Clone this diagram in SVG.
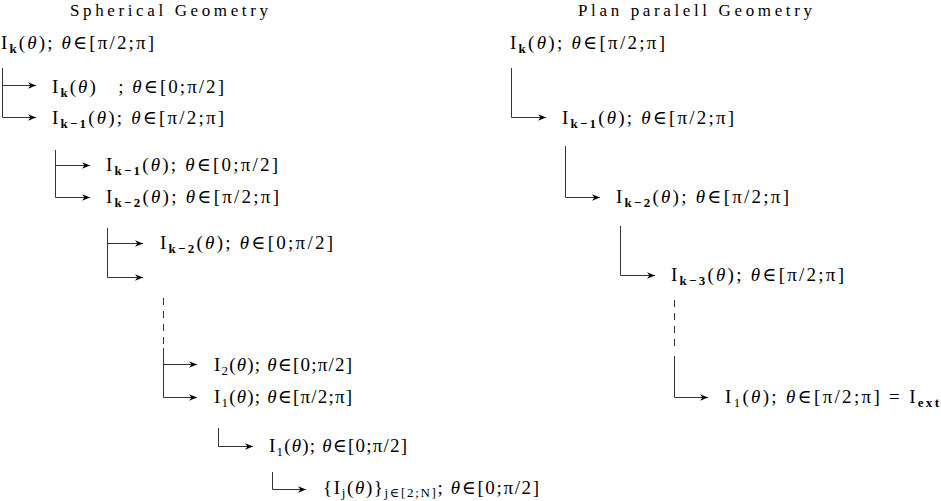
<svg xmlns="http://www.w3.org/2000/svg" width="941" height="501" viewBox="0 0 941 501">
<style>
text{font-family:"Liberation Serif","DejaVu Serif",serif;font-size:19px;fill:#000}
.ttl{font-size:17px}
.sb{font-size:13px;font-weight:bold}
.sn{font-size:13px}
.it{font-style:italic}
.c line,.c path{stroke:#333;stroke-width:1;fill:none}
.c .d{stroke-dasharray:7,6}
</style>
<defs>
<marker id="ah" viewBox="0 0 10 10" refX="10" refY="5" markerWidth="8" markerHeight="8" markerUnits="userSpaceOnUse" orient="auto">
<path d="M0,1 L10,5 L0,9 L3,5 Z" fill="#000" stroke="none"/>
</marker>
</defs>
<rect width="941" height="501" fill="#fff"/>
<g id="titles">
<text class="ttl" x="70" y="16" textLength="198" lengthAdjust="spacing">Spherical Geometry</text>
<text class="ttl" x="578" y="16" textLength="234" lengthAdjust="spacing">Plan paralell Geometry</text>
</g>
<g class="c" id="connectors">
<path d="M2.5,68 V117.5 H36" marker-end="url(#ah)"/>
<line x1="2.5" y1="85.5" x2="36" y2="85.5" marker-end="url(#ah)"/>
<path d="M55.5,150 V197.5 H90" marker-end="url(#ah)"/>
<line x1="55.5" y1="165.5" x2="90" y2="165.5" marker-end="url(#ah)"/>
<path d="M107.5,228 V277.5 H143" marker-end="url(#ah)"/>
<line x1="107.5" y1="243.5" x2="143" y2="243.5" marker-end="url(#ah)"/>
<line class="d" x1="163.5" y1="298" x2="163.5" y2="344"/>
<path d="M163.5,348 V397.5 H197" marker-end="url(#ah)"/>
<line x1="163.5" y1="364.5" x2="197" y2="364.5" marker-end="url(#ah)"/>
<path d="M218.5,428 V446.5 H253" marker-end="url(#ah)"/>
<path d="M272.5,472 V489.5 H306" marker-end="url(#ah)"/>
<path d="M511.5,68 V117.5 H546" marker-end="url(#ah)"/>
<path d="M565.5,146 V197.5 H600" marker-end="url(#ah)"/>
<path d="M620.5,226 V275.5 H655" marker-end="url(#ah)"/>
<line class="d" x1="674.5" y1="300" x2="674.5" y2="352"/>
<path d="M674.5,356 V397.5 H708" marker-end="url(#ah)"/>
</g>
<g id="sph1"><text x="1" y="49" textLength="153" lengthAdjust="spacing" xml:space="preserve">I<tspan class="sb" dy="4">k</tspan><tspan dy="-4">(</tspan><tspan class="it">θ</tspan>); <tspan class="it">θ</tspan>∈[π/2;π]</text></g>
<g id="sph2"><text x="52" y="93" textLength="172" lengthAdjust="spacing" xml:space="preserve">I<tspan class="sb" dy="4">k</tspan><tspan dy="-4">(</tspan><tspan class="it">θ</tspan>)   ; <tspan class="it">θ</tspan>∈[0;π/2]</text></g>
<g id="sph3"><text x="52" y="124" textLength="172" lengthAdjust="spacing" xml:space="preserve">I<tspan class="sb" dy="4">k−1</tspan><tspan dy="-4">(</tspan><tspan class="it">θ</tspan>); <tspan class="it">θ</tspan>∈[π/2;π]</text></g>
<g id="sph4"><text x="106" y="171" textLength="172" lengthAdjust="spacing" xml:space="preserve">I<tspan class="sb" dy="4">k−1</tspan><tspan dy="-4">(</tspan><tspan class="it">θ</tspan>); <tspan class="it">θ</tspan>∈[0;π/2]</text></g>
<g id="sph5"><text x="106" y="203" textLength="173" lengthAdjust="spacing" xml:space="preserve">I<tspan class="sb" dy="4">k−2</tspan><tspan dy="-4">(</tspan><tspan class="it">θ</tspan>); <tspan class="it">θ</tspan>∈[π/2;π]</text></g>
<g id="sph6"><text x="160" y="249" textLength="173" lengthAdjust="spacing" xml:space="preserve">I<tspan class="sb" dy="4">k−2</tspan><tspan dy="-4">(</tspan><tspan class="it">θ</tspan>); <tspan class="it">θ</tspan>∈[0;π/2]</text></g>
<g id="sph7"><text x="214" y="371" textLength="138" lengthAdjust="spacing" xml:space="preserve">I<tspan class="sn" dy="4">2</tspan><tspan dy="-4">(</tspan><tspan class="it">θ</tspan>); <tspan class="it">θ</tspan>∈[0;π/2]</text></g>
<g id="sph8"><text x="214" y="403" textLength="138" lengthAdjust="spacing" xml:space="preserve">I<tspan class="sn" dy="4">1</tspan><tspan dy="-4">(</tspan><tspan class="it">θ</tspan>); <tspan class="it">θ</tspan>∈[π/2;π]</text></g>
<g id="sph9"><text x="269" y="452" textLength="138" lengthAdjust="spacing" xml:space="preserve">I<tspan class="sn" dy="4">1</tspan><tspan dy="-4">(</tspan><tspan class="it">θ</tspan>); <tspan class="it">θ</tspan>∈[0;π/2]</text></g>
<g id="sph10"><text x="323" y="494" textLength="216" lengthAdjust="spacing" xml:space="preserve">{I<tspan class="sn" dy="3">j</tspan><tspan dy="-3">(</tspan><tspan class="it">θ</tspan>)}<tspan class="sn" dy="3">j∈[2;N]</tspan><tspan dy="-3">; </tspan><tspan class="it">θ</tspan>∈[0;π/2]</text></g>
<g id="pp1"><text x="510" y="49" textLength="155" lengthAdjust="spacing" xml:space="preserve">I<tspan class="sb" dy="4">k</tspan><tspan dy="-4">(</tspan><tspan class="it">θ</tspan>); <tspan class="it">θ</tspan>∈[π/2;π]</text></g>
<g id="pp2"><text x="562" y="124" textLength="172" lengthAdjust="spacing" xml:space="preserve">I<tspan class="sb" dy="4">k−1</tspan><tspan dy="-4">(</tspan><tspan class="it">θ</tspan>); <tspan class="it">θ</tspan>∈[π/2;π]</text></g>
<g id="pp3"><text x="616" y="203" textLength="173" lengthAdjust="spacing" xml:space="preserve">I<tspan class="sb" dy="4">k−2</tspan><tspan dy="-4">(</tspan><tspan class="it">θ</tspan>); <tspan class="it">θ</tspan>∈[π/2;π]</text></g>
<g id="pp4"><text x="671" y="281" textLength="173" lengthAdjust="spacing" xml:space="preserve">I<tspan class="sb" dy="4">k−3</tspan><tspan dy="-4">(</tspan><tspan class="it">θ</tspan>); <tspan class="it">θ</tspan>∈[π/2;π]</text></g>
<g id="pp5"><text x="725" y="403" textLength="214" lengthAdjust="spacing" xml:space="preserve">I<tspan class="sn" dy="4">1</tspan><tspan dy="-4">(</tspan><tspan class="it">θ</tspan>); <tspan class="it">θ</tspan>∈[π/2;π] = I<tspan class="sb" dy="4">ext</tspan></text></g>
</svg>
